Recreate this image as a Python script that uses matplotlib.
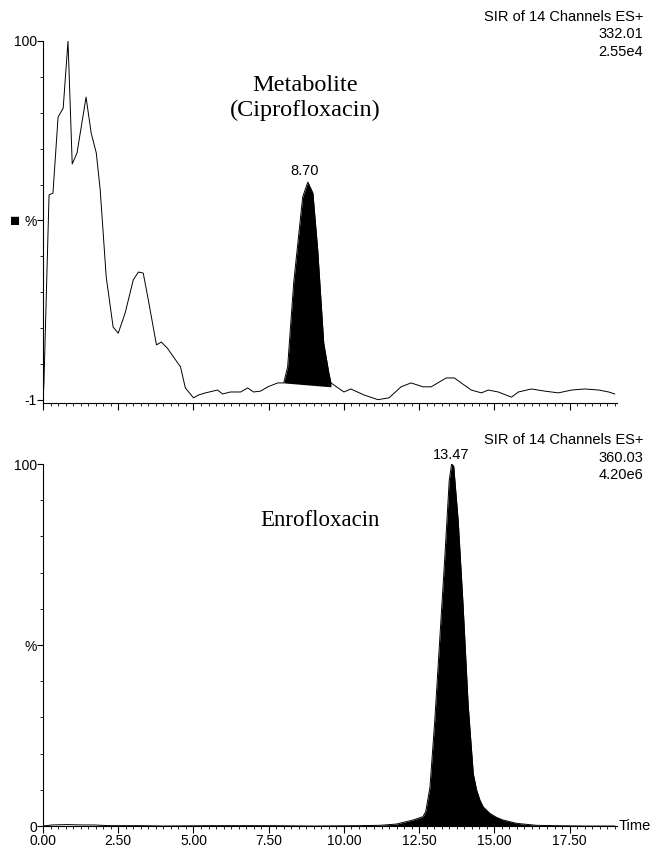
import numpy as np
import matplotlib.pyplot as plt
from matplotlib.ticker import MultipleLocator, FixedLocator

plt.rcParams['font.family'] = ['Liberation Sans', 'DejaVu Sans']

# top trace: m/z 332.01 (ciprofloxacin channel)
t_top = [0.0, 0.03, 0.2, 0.33, 0.5, 0.67, 0.83, 0.97, 1.13, 1.43, 1.6, 1.77, 1.9, 2.1, 2.33,
         2.5, 2.73, 3.0, 3.17, 3.33, 3.5, 3.77, 3.93, 4.13, 4.57, 4.73, 5.0, 5.17, 5.4, 5.8,
         5.97, 6.23, 6.57, 6.8, 7.0, 7.23, 7.47, 7.8, 8.0, 8.13, 8.33, 8.63, 8.8, 8.97, 9.13,
         9.33, 9.5, 9.57, 10.0, 10.23, 10.67, 11.13, 11.5, 11.9, 12.23, 12.63, 12.9, 13.4,
         13.67, 14.23, 14.57, 14.8, 15.13, 15.57, 15.8, 16.23, 16.67, 17.13, 17.57, 18.0,
         18.47, 18.8, 19.0]
i_top = [-1.0, 3.8, 56.7, 57.2, 78.6, 81.1, 100.0, 65.4, 68.5, 84.2, 74.1, 68.5, 58.1, 33.6,
         19.5, 17.8, 23.5, 32.8, 35.0, 34.7, 27.1, 14.5, 15.3, 13.6, 8.3, 2.4, -0.4, 0.4, 1.0,
         1.8, 0.7, 1.25, 1.25, 2.4, 1.25, 1.5, 2.7, 3.8, 3.8, 8.3, 31.9, 56.1, 60.3, 57.2,
         41.2, 15.0, 6.6, 3.8, 1.25, 2.1, 0.4, -0.9, -0.4, 2.7, 3.8, 2.7, 2.7, 5.2, 5.2, 1.8,
         1.0, 1.8, 1.25, -0.2, 1.25, 2.1, 1.5, 1.0, 1.8, 2.1, 1.8, 1.25, 0.7]
top_peak = (8.0, 9.57)

# bottom trace: m/z 360.03 (enrofloxacin channel)
t_bot = [0.0, 0.3, 0.8, 1.3, 1.7, 2.2, 3.3, 4.0, 5.5, 7.5, 9.0, 10.5, 11.2, 11.75, 12.3,
         12.63, 12.72, 12.86, 13.02, 13.19, 13.36, 13.5, 13.58, 13.65, 13.8, 13.96, 14.13,
         14.3, 14.41, 14.52, 14.63, 14.85, 15.07, 15.29, 15.74, 16.4, 17.0, 18.0, 19.0]
i_bot = [0.0, 0.3, 0.4, 0.3, 0.3, 0.1, 0.1, 0.0, 0.1, 0.1, 0.0, 0.1, 0.2, 0.55, 1.66,
         2.6, 4.0, 10.7, 29.1, 52.1, 75.1, 95.4, 100.0, 99.4, 84.2, 61.2, 33.5,
         14.5, 10.0, 7.2, 5.3, 3.5, 2.4, 1.66, 0.74, 0.2, 0.1, 0.0, 0.0]
bot_peak = (11.2, 17.0)

fig = plt.figure(figsize=(6.52, 8.48), dpi=100)
ax1 = fig.add_axes([0.066, 0.5248, 0.880, 0.4269])
ax2 = fig.add_axes([0.066, 0.0259, 0.880, 0.4269])

t_top = np.array(t_top); i_top = np.array(i_top)
t_bot = np.array(t_bot); i_bot = np.array(i_bot)

ax1.plot(t_top, i_top, color='black', lw=0.7)
m = (t_top >= top_peak[0]) & (t_top <= top_peak[1])
base = np.interp(t_top[m], top_peak, [i_top[m][0], 2.7])
ax1.fill_between(t_top[m], base, i_top[m], color='black', lw=0)

ax2.plot(t_bot, i_bot, color='black', lw=0.7)
m = (t_bot >= bot_peak[0]) & (t_bot <= bot_peak[1])
ax2.fill_between(t_bot[m], 0, i_bot[m], color='black', lw=0)

for ax in (ax1, ax2):
    ax.set_xlim(0, 19.07)
    for s in ('top', 'right'):
        ax.spines[s].set_visible(False)
    ax.spines['left'].set_linewidth(0.8)
    ax.spines['bottom'].set_linewidth(0.8)
    ax.xaxis.set_major_locator(MultipleLocator(2.5))
    ax.xaxis.set_minor_locator(MultipleLocator(0.25))
    ax.tick_params(axis='x', which='major', length=5, width=0.8, direction='out')
    ax.tick_params(axis='x', which='minor', length=2.5, width=0.6, direction='out')
    ax.tick_params(axis='y', which='major', length=4, width=0.8, direction='out', pad=0.5,
                   labelsize=10)
    ax.tick_params(axis='y', which='minor', length=2, width=0.6, direction='out')

ax1.set_ylim(-1.84, 100)
ax1.yaxis.set_major_locator(FixedLocator([-1, 49.5, 100]))
ax1.set_yticklabels(['-1', '%', '100'])
ax1.yaxis.set_minor_locator(FixedLocator(np.linspace(-1, 100, 11)))
ax1.tick_params(axis='x', labelbottom=False)
fig.text(0.0155, 1 - 221 / 848, '\u25A0', fontsize=12, va='center', ha='left')

ax2.set_ylim(0, 100)
ax2.yaxis.set_major_locator(FixedLocator([0, 50, 100]))
ax2.set_yticklabels(['0', '%', '100'])
ax2.yaxis.set_minor_locator(FixedLocator(np.arange(0, 101, 10)))
ax2.set_xticks(np.arange(0, 18, 2.5))
ax2.set_xticklabels(['%.2f' % v for v in np.arange(0, 18, 2.5)], fontsize=10)
ax2.tick_params(axis='x', pad=1)
ax2.text(1.003, 0, 'Time', transform=ax2.transAxes, fontsize=10.5, va='center', ha='left')

# header annotations
for y0, line2, line3 in ((17, '332.01', '2.55e4'), (440, '360.03', '4.20e6')):
    fig.text(643 / 652, 1 - y0 / 848, 'SIR of 14 Channels ES+', fontsize=10.5,
             ha='right', va='center')
    fig.text(643 / 652, 1 - (y0 + 17.5) / 848, line2, fontsize=10.5, ha='right', va='center')
    fig.text(643 / 652, 1 - (y0 + 35) / 848, line3, fontsize=10.5, ha='right', va='center')

ax1.text(8.7, 61.5, '8.70', fontsize=10.5, ha='center', va='bottom')
ax2.text(13.55, 100.5, '13.47', fontsize=10.5, ha='center', va='bottom')

serif = ['Liberation Serif', 'DejaVu Serif']
fig.text(305 / 652, 1 - 98 / 848, 'Metabolite\n(Ciprofloxacin)', family=serif, fontsize=17.5,
         ha='center', va='center', linespacing=1.2)
fig.text(320 / 652, 1 - 521 / 848, 'Enrofloxacin', family=serif, fontsize=16.5,
         ha='center', va='center')

fig.savefig('out.png', dpi=100)
